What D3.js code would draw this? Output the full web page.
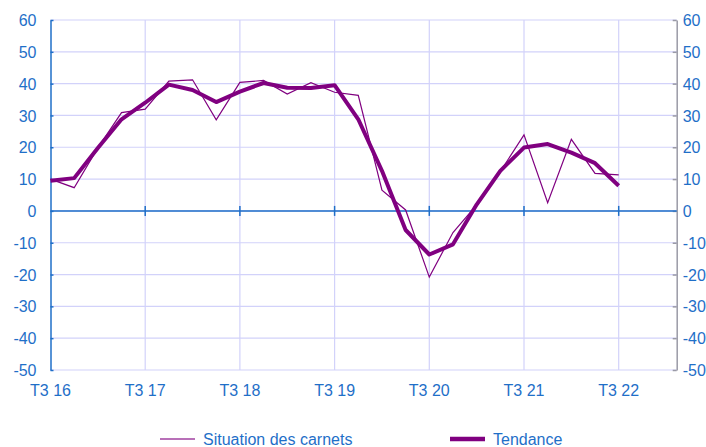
<!DOCTYPE html>
<html><head><meta charset="utf-8">
<script src="https://cdn.jsdelivr.net/npm/d3@7/dist/d3.min.js"></script>
<style>body{margin:0;background:#fff;}svg{display:block;font-family:"Liberation Sans",Arial,sans-serif;}</style>
</head><body><svg id="c" width="706" height="447"></svg>
<script>
const quarters = ["T3 16","T4 16","T1 17","T2 17","T3 17","T4 17","T1 18","T2 18","T3 18","T4 18","T1 19","T2 19","T3 19","T4 19","T1 20","T2 20","T3 20","T4 20","T1 21","T2 21","T3 21","T4 21","T1 22","T2 22","T3 22"];
const carnets = [10, 7.3, 19.8, 30.9, 32, 40.8, 41.2, 28.6, 40.4, 41, 36.7, 40.3, 37.3, 36.3, 6.5, 0.3, -20.8, -6.8, 1.9, 12.4, 23.9, 2.6, 22.5, 11.8, 11.3];
const tendance = [9.5, 10.3, 19.8, 28.8, 34, 39.7, 38, 34.2, 37.5, 40.2, 38.7, 38.6, 39.5, 28.8, 12.6, -6, -13.7, -10.5, 2, 12.6, 19.9, 21, 18.3, 15, 7.9];
const yTicks = [-50,-40,-30,-20,-10,0,10,20,30,40,50,60];
const xTickLabels = ["T3 16","T3 17","T3 18","T3 19","T3 20","T3 21","T3 22"];
const seriesNames = ["Situation des carnets","Tendance"];

const blue = "#1f6fc8", grid = "#d2d2fa", purple = "#800080";
const fs = "16px";
const svg = d3.select("#c");
const x = d3.scaleLinear().domain([0, 26.45]).range([50.5, 676.7]);
const y = d3.scaleLinear().domain([-50, 60]).range([370, 20]);
const xi = l => quarters.indexOf(l);
const fmt = d => String(d);

// grid
svg.append("g").selectAll("line").data(yTicks).join("line")
  .attr("x1", x(0)).attr("x2", x.range()[1]).attr("y1", d=>y(d)).attr("y2", d=>y(d))
  .attr("stroke", grid).attr("stroke-width", 1.2);
svg.append("g").selectAll("line").data(xTickLabels.slice(1)).join("line")
  .attr("x1", d=>x(xi(d))).attr("x2", d=>x(xi(d))).attr("y1", y(60)).attr("y2", y(-50))
  .attr("stroke", grid).attr("stroke-width", 1.2);

// left axis
const la = svg.append("g").attr("transform", `translate(${x(0)},0)`)
  .call(d3.axisLeft(y).tickValues(yTicks).tickFormat(fmt).tickSize(-3).tickPadding(14).tickSizeOuter(0));
la.select(".domain").attr("stroke", blue).attr("stroke-width", 1.5);
la.selectAll(".tick line").attr("stroke", blue).attr("stroke-width", 1.5);
la.selectAll("text").attr("fill", blue).style("font-size", fs).attr("dy", "0.35em");

// right axis
const ra = svg.append("g").attr("transform", `translate(${x.range()[1]},0)`)
  .call(d3.axisRight(y).tickValues(yTicks).tickFormat(fmt).tickSize(-4).tickPadding(6).tickSizeOuter(0));
ra.select(".domain").attr("stroke", "#9a9aa6").attr("stroke-width", 1.5);
ra.selectAll(".tick line").attr("stroke", "#9a9aa6").attr("stroke-width", 1.5);
ra.selectAll("text").attr("fill", blue).style("font-size", fs).attr("dy", "0.35em");

// zero axis
svg.append("line").attr("x1", x(0)).attr("x2", x.range()[1]).attr("y1", y(0)).attr("y2", y(0))
  .attr("stroke", blue).attr("stroke-width", 1.5);
svg.append("g").selectAll("line").data(xTickLabels.slice(1)).join("line")
  .attr("x1", d=>x(xi(d))).attr("x2", d=>x(xi(d))).attr("y1", y(0)-5).attr("y2", y(0)+5)
  .attr("stroke", blue).attr("stroke-width", 1.5);

// x labels
svg.append("g").selectAll("text").data(xTickLabels).join("text")
  .attr("x", d=>x(xi(d))).attr("y", 396).attr("text-anchor", "middle")
  .attr("fill", blue).style("font-size", fs).text(d=>d);

// lines
const line = d3.line().x((d,i)=>x(i)).y(d=>y(d));
svg.append("path").datum(carnets).attr("d", line).attr("fill","none")
  .attr("stroke", purple).attr("stroke-width", 1.2).attr("stroke-linejoin","miter");
svg.append("path").datum(tendance).attr("d", line).attr("fill","none")
  .attr("stroke", purple).attr("stroke-width", 4).attr("stroke-linejoin","round");

// legend
const lg = svg.append("g");
const legendItems = [{n: seriesNames[0], x1:160, w:1.5, c:"#a040a0"}, {n: seriesNames[1], x1:450, w:4.5, c:purple}];
legendItems.forEach(it=>{
  lg.append("line").attr("x1", it.x1).attr("x2", it.x1+35).attr("y1", 439).attr("y2", 439)
    .attr("stroke", it.c).attr("stroke-width", it.w);
  lg.append("text").attr("x", it.x1+43).attr("y", 445).attr("fill", blue)
    .style("font-size", fs).text(it.n);
});
</script></body></html>
